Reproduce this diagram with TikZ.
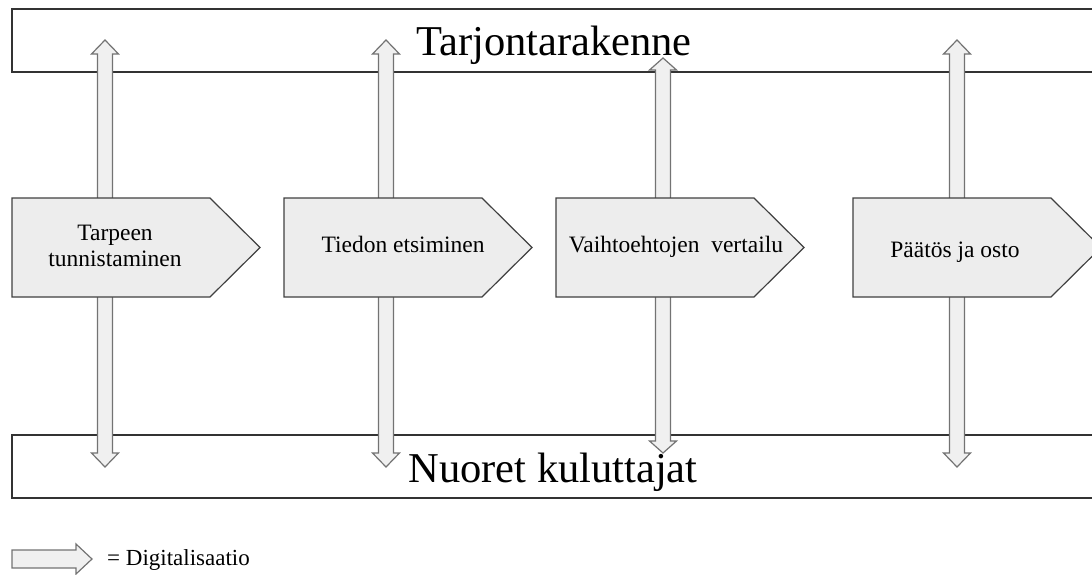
\documentclass[tikz,border=0pt]{standalone}
\usepackage{fontspec}
\setmainfont{Liberation Serif}
\begin{document}
\begin{tikzpicture}[x=1pt,y=-1pt,
  band/.style={draw=black!80,line width=1.3pt,fill=white},
  dblarr/.style={draw=black!55,line width=1.2pt,fill=black!6,line join=miter},
  stage/.style={draw=black!75,line width=1.2pt,fill=black!7,line join=miter},
  stagetext/.style={font=\fontsize{23.5}{27}\selectfont,align=center,anchor=base},
  bandtext/.style={font=\fontsize{42.5}{46}\selectfont,anchor=base}]
\useasboundingbox (0,0) rectangle (1092,574);
\clip (0,0) rectangle (1092,574);
\newcommand{\vdbl}[4]{%
  \draw[dblarr] (#1,#2) -- ++(13.5,#4) -- ++(-6,0) -- (#1+7.5,#3-#4) -- ++(6,0) -- (#1,#3)
    -- ++(-13.5,-#4) -- ++(6,0) -- (#1-7.5,#2+#4) -- ++(-6,0) -- cycle;}
% bands
\draw[band] (12,9) rectangle (1110,72);
\draw[band] (12,435) rectangle (1110,498);
\node[bandtext] (top) at (554,55) {Tarjontarakenne};
\node[bandtext] (bottom) at (553,482) {Nuoret kuluttajat};
% vertical double arrows
\vdbl{105}{40}{467}{14}
\vdbl{386}{40}{467}{14}
\vdbl{663}{58}{453}{12}
\vdbl{957}{40}{467}{14}
% stages
\draw[stage] (12,198) -- (210,198) -- (260,247.5) -- (210,297) -- (12,297) -- cycle;
\draw[stage] (284,198) -- (482,198) -- (532,247.5) -- (482,297) -- (284,297) -- cycle;
\draw[stage] (556,198) -- (754,198) -- (804,247.5) -- (754,297) -- (556,297) -- cycle;
\draw[stage] (853,198) -- (1051,198) -- (1101,247.5) -- (1051,297) -- (853,297) -- cycle;
\node[stagetext] (s1) at (115,240) {Tarpeen};
\node[stagetext] (s1b) at (115,266) {tunnistaminen};
\node[stagetext] (s2) at (403,252) {Tiedon etsiminen};
\node[stagetext] (s3) at (676,252) {Vaihtoehtojen\ \ vertailu};
\node[stagetext] (s4) at (955,257) {Päätös ja osto};
% legend
\draw[dblarr] (12,550) -- (76,550) -- (76,544) -- (92,559) -- (76,574) -- (76,568) -- (12,568) -- cycle;
\node[font=\fontsize{23}{27}\selectfont,anchor=base west,inner sep=0pt] (leg) at (107,565) {= Digitalisaatio};
\end{tikzpicture}
\end{document}
